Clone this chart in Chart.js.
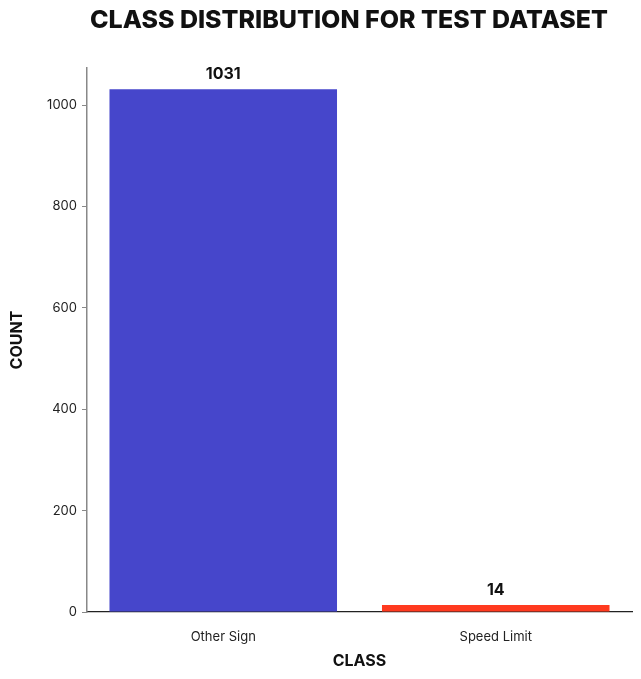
<!DOCTYPE html>
<html>
<head>
<meta charset="utf-8">
<script src="https://cdn.jsdelivr.net/npm/chart.js@4/dist/chart.umd.min.js"></script>
<style>
  html, body { margin: 0; padding: 0; background: #fff; }
  #wrap { width: 641px; height: 679px; position: relative; }
</style>
</head>
<body>
<div id="wrap"><canvas id="chart"></canvas></div>
<script>
const categories = ["Other Sign", "Speed Limit"];
const counts = [1031, 14];
const barColors = ["#4646CB", "#FF3A1F"];
const yTicks = [0, 200, 400, 600, 800, 1000];

const FONT = "Inter, 'DejaVu Sans', sans-serif";

// title and value labels drawn on the canvas
const overlay = {
  id: "overlay",
  afterDatasetsDraw(chart) {
    const ctx = chart.ctx;
    const meta = chart.getDatasetMeta(0);
    ctx.save();
    ctx.fillStyle = "#111";
    ctx.textAlign = "center";
    ctx.textBaseline = "alphabetic";
    ctx.font = "bold 16px " + FONT;
    meta.data.forEach((bar, i) => {
      ctx.fillText(String(counts[i]), bar.x, bar.y - 10);
    });
    ctx.font = "800 25px " + FONT;
    ctx.textBaseline = "middle";
    ctx.fillText("CLASS DISTRIBUTION FOR TEST DATASET", 349, 20);
    ctx.restore();
  }
};

new Chart(document.getElementById("chart"), {
  type: "bar",
  data: {
    labels: categories,
    datasets: [{
      data: counts,
      backgroundColor: barColors,
      borderWidth: 0,
      barPercentage: 0.835,
      categoryPercentage: 1
    }]
  },
  plugins: [overlay],
  options: {
    responsive: true,
    maintainAspectRatio: false,
    animation: false,
    layout: { padding: { top: 68, right: 9, left: 0, bottom: 0 } },
    plugins: {
      legend: { display: false },
      tooltip: { enabled: false },
      title: { display: false }
    },
    scales: {
      x: {
        grid: { display: false, drawTicks: false },
        border: { display: true, color: "#222", width: 1.2 },
        ticks: { color: "#222", font: { family: FONT, size: 13 }, padding: 17 },
        title: {
          display: true,
          text: "CLASS",
          color: "#111",
          font: { family: FONT, size: 16, weight: "bold" },
          padding: { top: 0, bottom: 8 }
        },
        afterFit: (s) => { s.height = 67; }
      },
      y: {
        min: 0,
        max: 1073,
        afterBuildTicks: (s) => { s.ticks = yTicks.map((v) => ({ value: v })); },
        grid: { display: true, drawOnChartArea: false, drawTicks: true, tickLength: 5, color: "#888" },
        border: { display: true, color: "#888", width: 1.5 },
        ticks: { color: "#222", font: { family: FONT, size: 13 }, padding: 5, callback: (v) => String(v) },
        title: {
          display: true,
          text: "COUNT",
          color: "#111",
          font: { family: FONT, size: 16, weight: "bold" },
          padding: { top: 8, bottom: 0 }
        },
        afterFit: (s) => { s.width = 87; }
      }
    }
  }
});
</script>
</body>
</html>
